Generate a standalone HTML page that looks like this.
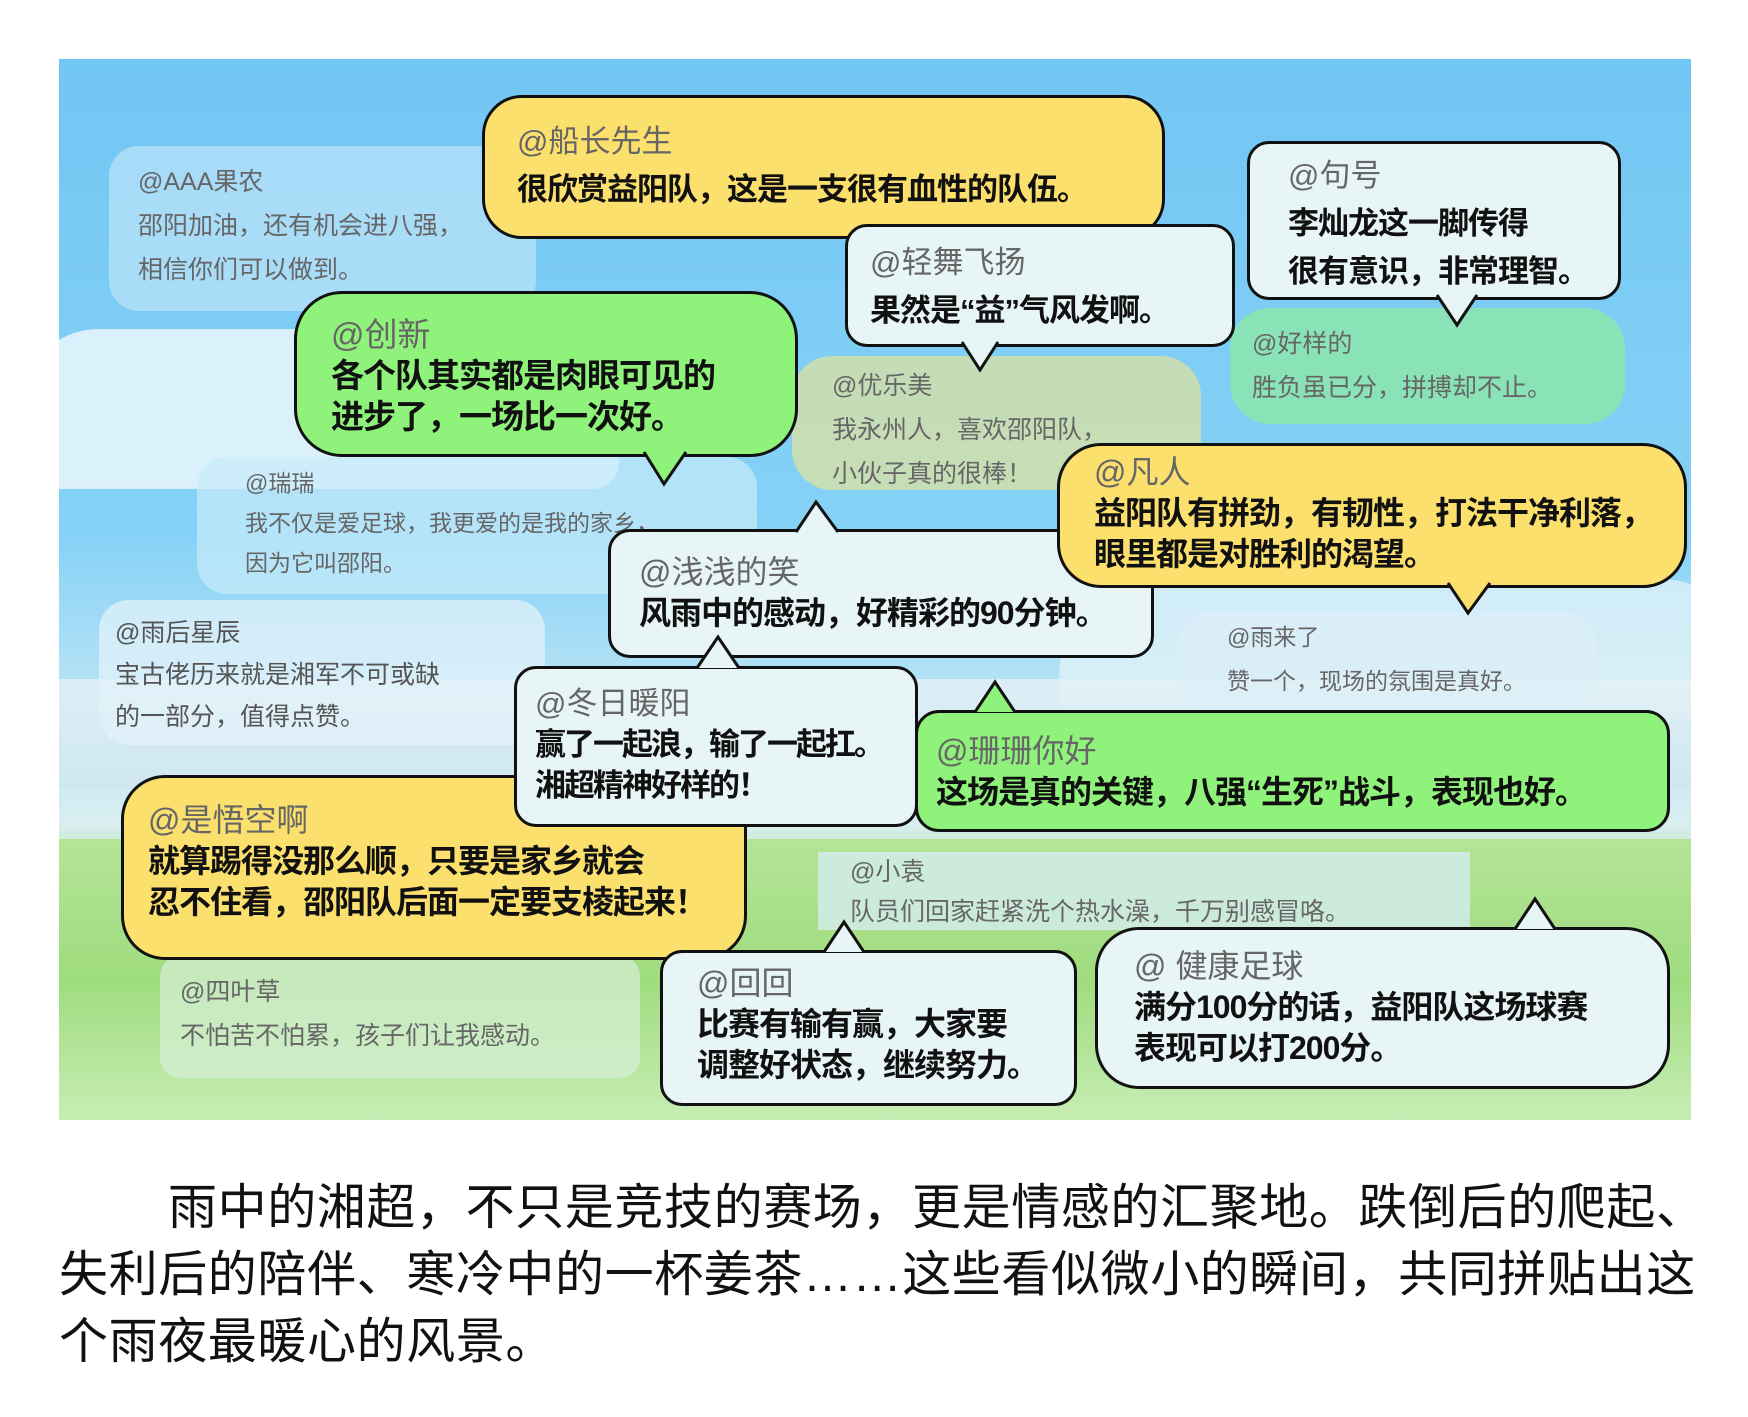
<!DOCTYPE html>
<html><head><meta charset="utf-8"><style>
*{margin:0;padding:0;box-sizing:border-box}
body{width:1748px;height:1417px;background:#fff;position:relative;overflow:hidden;font-family:"Liberation Sans","Noto Sans CJK SC",sans-serif}
#panel{position:absolute;left:59px;top:59px;width:1632px;height:1061px;overflow:hidden;
background:linear-gradient(180deg,#72c6f3 0%,#86d2f7 45%,#bfe6f5 62%,#d9eef0 72%,#a8e08a 80%,#9fdc7c 90%,#c4ecb0 100%)}
.b{position:absolute;border:3px solid #111;color:#111;font-weight:bold;white-space:nowrap;letter-spacing:-1px}
.b .n{color:#666;font-weight:normal;letter-spacing:0}
.y{background:#fbe06e;border-radius:40px}
.g{background:#8ff27a;border-radius:40px}
.w{background:#e8f5f6;border-radius:22px}
.f{position:absolute;border-radius:30px;color:#666;font-size:25px;line-height:44px;white-space:nowrap}
.t{position:absolute;overflow:visible}
.cap{position:absolute;left:59px;font-size:49px;color:#111;white-space:nowrap;letter-spacing:0.6px}
</style></head><body>
<div id="panel">
<div style="position:absolute;left:-40px;top:270px;width:600px;height:160px;background:#eaf6fb;border-radius:120px 200px 40px 40px;opacity:.85"></div>
<div style="position:absolute;left:1000px;top:520px;width:700px;height:140px;background:#dff1f8;border-radius:100px 100px 20px 20px;opacity:.8"></div>
<div style="position:absolute;left:0;top:620px;width:1639px;height:110px;background:linear-gradient(180deg,#e6f2f6,#cfe6ee);opacity:.8"></div>
<div style="position:absolute;left:0;top:780px;width:1639px;height:285px;background:linear-gradient(180deg,#b4e497,#9fdc7e 50%,#c8eeb6)"></div>
</div>

<div class="f" style="left:109px;top:146px;width:427px;height:165px;background:rgba(200,232,248,.6);padding:14px 0 0 29px">@AAA果农<br>邵阳加油，还有机会进八强，<br>相信你们可以做到。</div>
<div class="f" style="left:792px;top:356px;width:409px;height:134px;background:rgba(220,225,160,.75);padding:8px 0 0 40px;border-radius:40px">@优乐美<br>我永州人，喜欢邵阳队，<br>小伙子真的很棒！</div>
<div class="f" style="left:1230px;top:308px;width:395px;height:116px;background:rgba(140,230,170,.85);padding:14px 0 0 22px;border-radius:40px">@好样的<br>胜负虽已分，拼搏却不止。</div>
<div class="f" style="left:197px;top:457px;width:560px;height:137px;background:rgba(200,235,250,.7);padding:6px 0 0 48px;font-size:23px;line-height:40px">@瑞瑞<br>我不仅是爱足球，我更爱的是我的家乡，<br>因为它叫邵阳。</div>
<div class="f" style="left:99px;top:600px;width:446px;height:145px;background:rgba(225,242,250,.75);padding:12px 0 0 16px;line-height:42px;color:#555">@雨后星辰<br>宝古佬历来就是湘军不可或缺<br>的一部分，值得点赞。</div>
<div class="f" style="left:1179px;top:611px;width:417px;height:100px;background:rgba(220,238,248,.7);padding:4px 0 0 48px;font-size:23px">@雨来了<br>赞一个，现场的氛围是真好。</div>
<div class="f" style="left:818px;top:852px;width:652px;height:78px;background:rgba(215,238,245,.75);padding:0 0 0 32px;border-radius:0;line-height:40px">@小袁<br>队员们回家赶紧洗个热水澡，千万别感冒咯。</div>
<div class="f" style="left:160px;top:956px;width:480px;height:122px;background:rgba(215,240,215,.7);padding:14px 0 0 20px;border-radius:20px">@四叶草<br>不怕苦不怕累，孩子们让我感动。</div>

<div class="b y" style="left:482px;top:95px;width:683px;height:144px;padding:20px 0 0 32px;font-size:31px;line-height:48px"><span class="n">@船长先生</span><br>很欣赏益阳队，这是一支很有血性的队伍。</div>

<div class="b w" style="left:1247px;top:141px;width:374px;height:159px;padding:8px 0 0 38px;font-size:31px;line-height:48px"><span class="n">@句号</span><br>李灿龙这一脚传得<br>很有意识，非常理智。</div>
<svg class="t" style="left:1437px;top:295px" width="40" height="32"><polygon points="0,0 20,30 40,0" fill="#e8f5f6"/><polyline points="0,0 20,30 40,0" fill="none" stroke="#111" stroke-width="3"/></svg>

<div class="b w" style="left:845px;top:224px;width:390px;height:123px;padding:12px 0 0 22px;font-size:31px;line-height:48px"><span class="n">@轻舞飞扬</span><br>果然是“益”气风发啊。</div>
<svg class="t" style="left:962px;top:342px" width="36" height="30"><polygon points="0,0 18,28 36,0" fill="#e8f5f6"/><polyline points="0,0 18,28 36,0" fill="none" stroke="#111" stroke-width="3"/></svg>

<div class="b g" style="left:294px;top:291px;width:504px;height:166px;padding:20px 0 0 34px;font-size:33px;line-height:41px;border-radius:48px"><span class="n">@创新</span><br>各个队其实都是肉眼可见的<br>进步了，一场比一次好。</div>
<svg class="t" style="left:644px;top:452px" width="42" height="34"><polygon points="0,0 20,32 42,0" fill="#8ff27a"/><polyline points="0,0 20,32 42,0" fill="none" stroke="#111" stroke-width="3"/></svg>

<div class="b w" style="left:608px;top:529px;width:546px;height:129px;padding:20px 0 0 28px;font-size:32px;line-height:41px"><span class="n">@浅浅的笑</span><br>风雨中的感动，好精彩的90分钟。</div>
<svg class="t" style="left:796px;top:501px" width="42" height="32"><polygon points="0,31 20,1 42,31" fill="#e8f5f6"/><polyline points="0,31 20,1 42,31" fill="none" stroke="#111" stroke-width="3"/></svg>

<div class="b y" style="left:1057px;top:443px;width:630px;height:145px;padding:6px 0 0 34px;font-size:32px;line-height:41px;border-radius:44px"><span class="n">@凡人</span><br>益阳队有拼劲，有韧性，打法干净利落，<br>眼里都是对胜利的渴望。</div>
<svg class="t" style="left:1448px;top:583px" width="42" height="32"><polygon points="0,0 20,30 42,0" fill="#fbe06e"/><polyline points="0,0 20,30 42,0" fill="none" stroke="#111" stroke-width="3"/></svg>

<div class="b y" style="left:121px;top:775px;width:626px;height:185px;padding:22px 0 0 24px;font-size:32px;line-height:41px;border-radius:44px"><span class="n">@是悟空啊</span><br>就算踢得没那么顺，只要是家乡就会<br>忍不住看，邵阳队后面一定要支棱起来！</div>

<div class="b w" style="left:514px;top:666px;width:404px;height:161px;padding:14px 0 0 18px;font-size:31px;line-height:41px;letter-spacing:-2px"><span class="n">@冬日暖阳</span><br>赢了一起浪，输了一起扛。<br>湘超精神好样的！</div>
<svg class="t" style="left:697px;top:636px" width="42" height="33"><polygon points="0,32 21,1 42,32" fill="#e8f5f6"/><polyline points="0,32 21,1 42,32" fill="none" stroke="#111" stroke-width="3"/></svg>

<div class="b g" style="left:915px;top:710px;width:755px;height:122px;padding:18px 0 0 18px;font-size:32px;line-height:41px;border-radius:24px"><span class="n">@珊珊你好</span><br>这场是真的关键，八强“生死”战斗，表现也好。</div>
<svg class="t" style="left:975px;top:681px" width="40" height="32"><polygon points="0,31 20,1 40,31" fill="#8ff27a"/><polyline points="0,31 20,1 40,31" fill="none" stroke="#111" stroke-width="3"/></svg>

<div class="b w" style="left:660px;top:950px;width:417px;height:156px;padding:10px 0 0 34px;font-size:32px;line-height:41px"><span class="n">@回回</span><br>比赛有输有赢，大家要<br>调整好状态，继续努力。</div>
<svg class="t" style="left:824px;top:921px" width="40" height="32"><polygon points="0,31 20,1 40,31" fill="#e8f5f6"/><polyline points="0,31 20,1 40,31" fill="none" stroke="#111" stroke-width="3"/></svg>

<div class="b w" style="left:1095px;top:927px;width:575px;height:162px;padding:16px 0 0 36px;font-size:32px;line-height:41px;border-radius:44px"><span class="n">@ 健康足球</span><br>满分100分的话，益阳队这场球赛<br>表现可以打200分。</div>
<svg class="t" style="left:1515px;top:898px" width="40" height="32"><polygon points="0,31 20,1 40,31" fill="#e8f5f6"/><polyline points="0,31 20,1 40,31" fill="none" stroke="#111" stroke-width="3"/></svg>

<div class="cap" style="left:168px;top:1168px">雨中的湘超，不只是竞技的赛场，更是情感的汇聚地。跌倒后的爬起、</div>
<div class="cap" style="top:1235px">失利后的陪伴、寒冷中的一杯姜茶……这些看似微小的瞬间，共同拼贴出这</div>
<div class="cap" style="top:1302px">个雨夜最暖心的风景。</div>
</body></html>
